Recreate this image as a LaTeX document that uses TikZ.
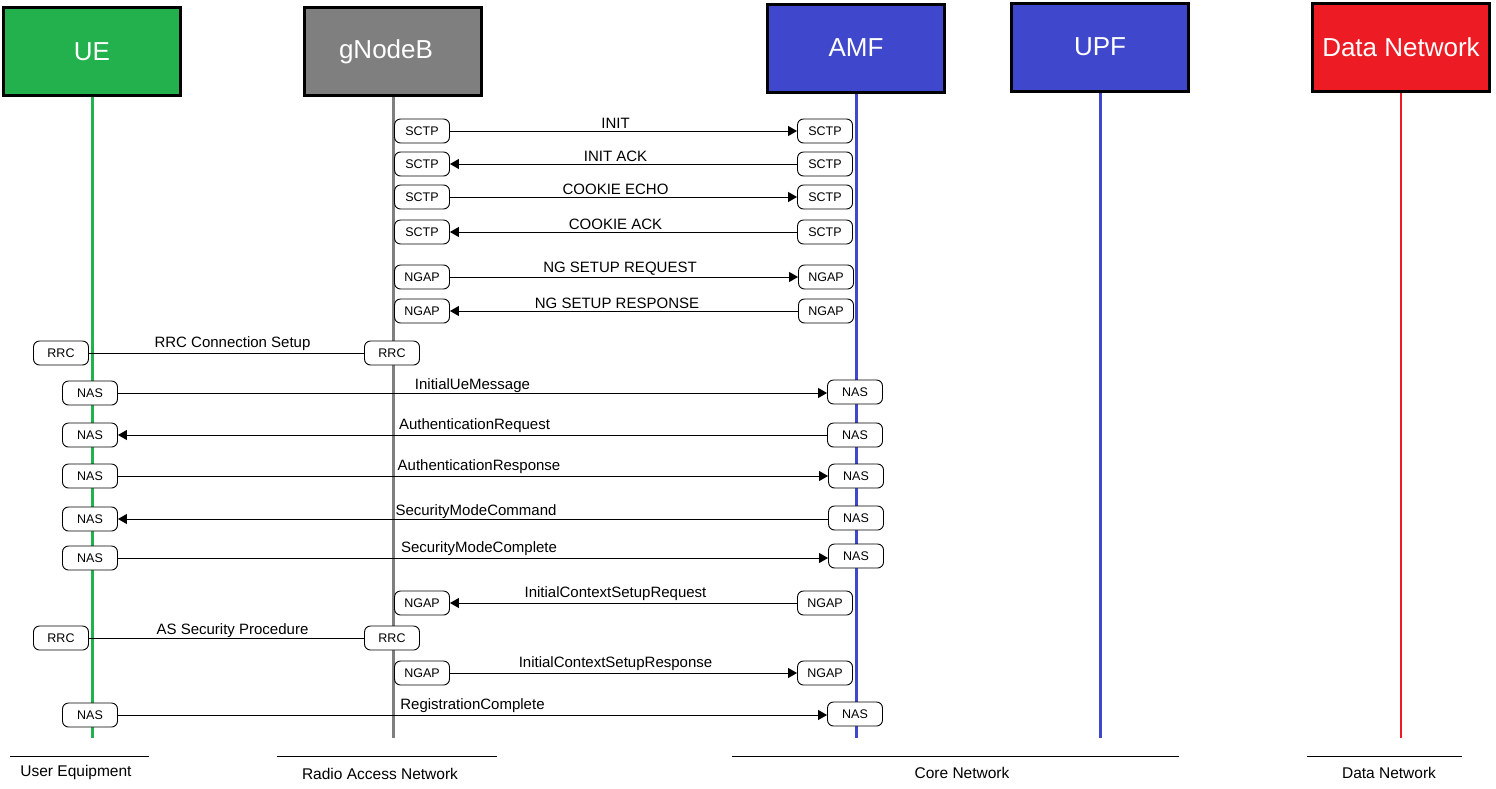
\documentclass[tikz,border=0pt]{standalone}
\usepackage{fontspec}
\setmainfont{Liberation Sans}
\usetikzlibrary{arrows.meta,positioning}
\definecolor{uegreen}{HTML}{22B14C}
\definecolor{rangray}{HTML}{7F7F7F}
\definecolor{coreblue}{HTML}{3F48CC}
\definecolor{dnred}{HTML}{ED1C24}

\begin{document}
\begin{tikzpicture}[x=1pt,y=-1pt]
\tikzset{
  entity/.style={draw,line width=3pt,minimum width=177pt,minimum height=88pt,inner sep=0pt,text=white,font=\fontsize{26}{30}\selectfont},
  proto/.style={draw,fill=white,rounded corners=6pt,minimum width=55pt,minimum height=24pt,inner sep=1pt,line width=0.9pt,font=\fontsize{12.5}{14}\selectfont},
  msg/.style={-{Triangle[length=9pt,width=10pt]},line width=1pt},
  plainmsg/.style={line width=1pt},
  lifeline/.style={line width=3pt},
  msglabel/.style={midway,above,inner sep=1.5pt,font=\fontsize{15}{17}\selectfont},
  areaname/.style={font=\fontsize{15.5}{18}\selectfont}
}
\useasboundingbox (0,0) rectangle (1496,788);

\node[entity,fill=uegreen] (n_ue) at (92,51.5) {\raisebox{-2pt}{UE}};
\node[entity,fill=rangray] (n_gnb) at (393,51.5) {\hspace*{-14pt}gNodeB};
\node[entity,fill=coreblue] (n_amf) at (856,48) {\raisebox{-3pt}{AMF}};
\node[entity,fill=coreblue] (n_upf) at (1100,47) {UPF};
\node[entity,fill=dnred] (n_dn) at (1401,47.5) {Data Network};

\draw[lifeline,uegreen] (n_ue.south) -- (n_ue.south |- 0,738);
\draw[lifeline,rangray] (n_gnb.south) -- (n_gnb.south |- 0,738);
\draw[lifeline,coreblue] (n_amf.south) -- (n_amf.south |- 0,738);
\draw[lifeline,coreblue] (n_upf.south) -- (n_upf.south |- 0,738);
\draw[line width=2pt,dnred] (n_dn.south) -- (n_dn.south |- 0,738);

\node[proto] (p_init_a) at (422,131) {SCTP};
\node[proto] (p_init_b) at (825,131) {SCTP};
\node[proto] (p_iack_a) at (422,164) {SCTP};
\node[proto] (p_iack_b) at (825,164) {SCTP};
\node[proto] (p_echo_a) at (422,197) {SCTP};
\node[proto] (p_echo_b) at (825,197) {SCTP};
\node[proto] (p_cack_a) at (422,232) {SCTP};
\node[proto] (p_cack_b) at (825,232) {SCTP};
\node[proto] (p_ngreq_a) at (422,277) {NGAP};
\node[proto] (p_ngreq_b) at (826,277) {NGAP};
\node[proto] (p_ngrsp_a) at (422,311) {NGAP};
\node[proto] (p_ngrsp_b) at (826,311) {NGAP};
\node[proto] (p_rrc1_a) at (61,353) {RRC};
\node[proto] (p_rrc1_b) at (392,353) {RRC};
\node[proto] (p_iue_a) at (90,393) {NAS};
\node[proto] (p_iue_b) at (855,392) {NAS};
\node[proto] (p_areq_a) at (90,435) {NAS};
\node[proto] (p_areq_b) at (855,435) {NAS};
\node[proto] (p_arsp_a) at (90,476) {NAS};
\node[proto] (p_arsp_b) at (856,476) {NAS};
\node[proto] (p_smc_a) at (90,519) {NAS};
\node[proto] (p_smc_b) at (856,518) {NAS};
\node[proto] (p_smcp_a) at (90,558) {NAS};
\node[proto] (p_smcp_b) at (856,556) {NAS};
\node[proto] (p_icsreq_a) at (422,603) {NGAP};
\node[proto] (p_icsreq_b) at (825,603) {NGAP};
\node[proto] (p_rrc2_a) at (61,638) {RRC};
\node[proto] (p_rrc2_b) at (392,638) {RRC};
\node[proto] (p_icsrsp_a) at (422,673) {NGAP};
\node[proto] (p_icsrsp_b) at (825,673) {NGAP};
\node[proto] (p_reg_a) at (90,715) {NAS};
\node[proto] (p_reg_b) at (855,714) {NAS};

\draw[msg] (p_init_a) -- (p_init_b) node[msglabel,xshift=-8pt,yshift=1pt] {INIT};
\draw[msg] (p_iack_b) -- (p_iack_a) node[msglabel,xshift=-8pt] {INIT ACK};
\draw[msg] (p_echo_a) -- (p_echo_b) node[msglabel,xshift=-8pt] {COOKIE ECHO};
\draw[msg] (p_cack_b) -- (p_cack_a) node[msglabel,xshift=-8pt] {COOKIE ACK};
\draw[msg] (p_ngreq_a) -- (p_ngreq_b) node[msglabel,xshift=-4pt] {NG SETUP REQUEST};
\draw[msg] (p_ngrsp_b) -- (p_ngrsp_a) node[msglabel,xshift=-7pt] {NG SETUP RESPONSE};
\draw[plainmsg] (p_rrc1_a) -- (p_rrc1_b) node[msglabel,xshift=6pt] {RRC Connection Setup};
\draw[msg] (p_iue_a) -- (p_iue_a -| p_iue_b.west) node[msglabel,yshift=-2pt] {InitialUeMessage};
\draw[msg] (p_areq_b) -- (p_areq_a) node[msglabel,xshift=2pt] {AuthenticationRequest};
\draw[msg] (p_arsp_a) -- (p_arsp_b) node[msglabel,xshift=6pt] {AuthenticationResponse};
\draw[msg] (p_smc_a -| p_smc_b.west) -- (p_smc_a) node[msglabel,xshift=3pt,yshift=-2pt] {SecurityModeCommand};
\draw[msg] (p_smcp_a) -- (p_smcp_a -| p_smcp_b.west) node[msglabel,xshift=6pt] {SecurityModeComplete};
\draw[msg] (p_icsreq_b) -- (p_icsreq_a) node[msglabel,xshift=-8pt] {InitialContextSetupRequest};
\draw[plainmsg] (p_rrc2_a) -- (p_rrc2_b) node[msglabel,xshift=6pt,yshift=-2pt] {AS Security Procedure};
\draw[msg] (p_icsrsp_a) -- (p_icsrsp_b) node[msglabel,xshift=-8pt] {InitialContextSetupResponse};
\draw[msg] (p_reg_a) -- (p_reg_a -| p_reg_b.west) node[msglabel] {RegistrationComplete};

\draw[line width=1pt] (10,756) -- (149,756);
\draw[line width=1pt] (277,756) -- (497,756);
\draw[line width=1pt] (732,756) -- (1179,756);
\draw[line width=1pt] (1307,756) -- (1462,756);
\node[areaname] (d_ue) at (76,772) {User Equipment};
\node[areaname] (d_ran) at (380,774) {Radio Access Network};
\node[areaname] (d_core) at (962,773) {Core Network};
\node[areaname] (d_dn) at (1389,773) {Data Network};
\end{tikzpicture}
\end{document}
